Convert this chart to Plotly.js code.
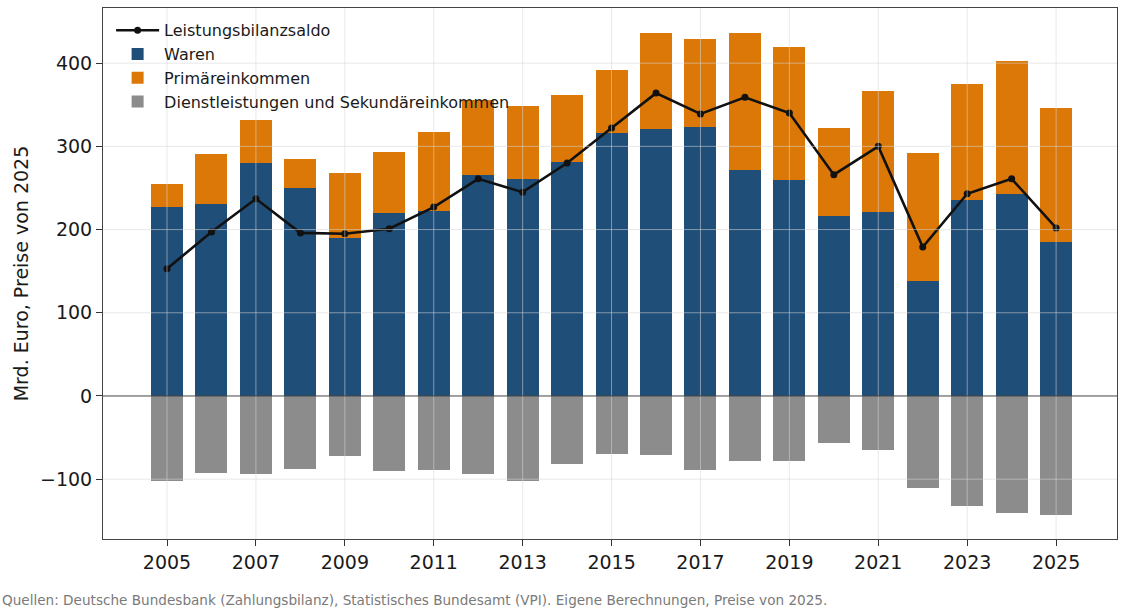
<!DOCTYPE html>
<html>
<head>
<meta charset="utf-8">
<script src="https://cdn.plot.ly/plotly-3.0.1.min.js"></script>
<style>html,body{margin:0;padding:0;background:#fff;}#chart{width:1127px;height:611px;}</style>
</head>
<body>
<div id="chart"></div>
<script>
const years = [2005,2006,2007,2008,2009,2010,2011,2012,2013,2014,2015,2016,2017,2018,2019,2020,2021,2022,2023,2024,2025];
const waren = [227,231,280,250,190,220,222,266,261,281,316,321,323,272,260,216,221,138,235,243,185];
const primaer = [28,60,52,35,78,73,95,90,88,81,76,115,106,164,159,106,146,154,140,160,161];
const dienstSekundaer = [-102,-93,-94,-88,-72,-90,-89,-94,-102,-82,-70,-71,-89,-78,-78,-56,-65,-111,-132,-141,-143];
const saldo = [153,197,237,196,195,201,227,261,245,280,322,364,339,359,340,266,300,179,243,261,202];
const xTicks = [2005,2007,2009,2011,2013,2015,2017,2019,2021,2023,2025];
const yTicks = [-100,0,100,200,300,400];
const footer = "Quellen: Deutsche Bundesbank (Zahlungsbilanz), Statistisches Bundesamt (VPI). Eigene Berechnungen, Preise von 2025.";

const FONT = "DejaVu Sans, sans-serif";
const barW = 0.72;

const traces = [
  {type:'scatter', mode:'lines+markers', name:'Leistungsbilanzsaldo', x:years, y:saldo,
   line:{color:'#111111', width:2.6}, marker:{color:'#111111', size:7}},
  {type:'bar', name:'Waren', x:years, y:waren, width:barW, marker:{color:'#1f4e79', line:{width:0}}},
  {type:'bar', name:'Primäreinkommen', x:years, y:primaer, width:barW, marker:{color:'#db7807', line:{width:0}}},
  {type:'bar', name:'Dienstleistungen und Sekundäreinkommen', x:years, y:dienstSekundaer, width:barW, marker:{color:'#8c8c8c', line:{width:0}}}
];

const gridShapes = [];
yTicks.filter(v => v !== 0).forEach(v => gridShapes.push({type:'line', xref:'paper', x0:0, x1:1, yref:'y', y0:v, y1:v, layer:'above', line:{color:'rgba(215,215,215,0.55)', width:1}}));
xTicks.forEach(v => gridShapes.push({type:'line', yref:'paper', y0:0, y1:1, xref:'x', x0:v, x1:v, layer:'above', line:{color:'rgba(215,215,215,0.55)', width:1}}));
gridShapes.push({type:'line', xref:'paper', x0:0, x1:1, yref:'y', y0:0, y1:0, layer:'above', line:{color:'#444444', width:1}});

const layout = {
  width:1127, height:611,
  margin:{l:103, r:10, t:8, b:72},
  paper_bgcolor:'#ffffff', plot_bgcolor:'#ffffff',
  font:{family:FONT, color:'#1a1a1a'},
  barmode:'relative', bargap:0,
  showlegend:true,
  legend:{x:0.008, y:0.99, xanchor:'left', yanchor:'top', itemwidth:43, bgcolor:'rgba(0,0,0,0)', font:{family:FONT, size:16, color:'#1a1a1a'}, traceorder:'normal'},
  xaxis:{range:[2003.56, 2026.37], tickvals:xTicks, ticktext:xTicks.map(String), ticks:'outside', ticklen:6, tickcolor:'#333',
         showgrid:false, zeroline:false, showline:true, mirror:true, linecolor:'#444', linewidth:1,
         tickfont:{family:FONT, size:19, color:'#1a1a1a'}},
  yaxis:{range:[-171.9, 466.3], tickvals:yTicks, ticks:'outside', ticklen:6, tickcolor:'#333',
         showgrid:false, zeroline:false, showline:true, mirror:true, linecolor:'#444', linewidth:1,
         tickfont:{family:FONT, size:19, color:'#1a1a1a'},
         title:{text:'Mrd. Euro, Preise von 2025', font:{family:FONT, size:19, color:'#1a1a1a'}, standoff:6}},
  shapes:gridShapes,
  annotations:[{text:footer, xref:'paper', yref:'paper', x:-103/1014, y:-0.115, xanchor:'left', yanchor:'middle', showarrow:false,
               font:{family:FONT, size:13.6, color:'#7a7a7a'}}]
};

Plotly.newPlot('chart', traces, layout, {displayModeBar:false, staticPlot:true});
</script>
</body>
</html>
